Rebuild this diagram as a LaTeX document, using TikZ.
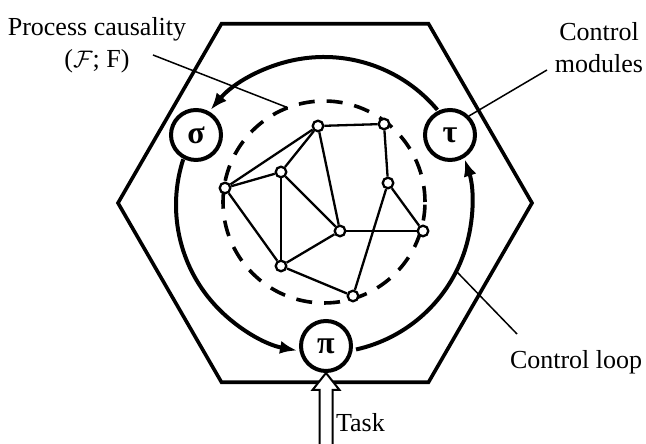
\documentclass[tikz,border=0pt]{standalone}
\usepackage{fontspec}
\setmainfont{Liberation Serif}
\usepackage{tikz}
\usetikzlibrary{arrows.meta,calc}

\begin{document}
\begin{tikzpicture}[x=0.5bp, y=0.5bp, every node/.style={font=\fontsize{13bp}{16bp}\selectfont}, >={Latex[length=8.5bp,width=6.5bp]},
	ctrl/.style={circle, draw, line width=2bp, minimum size=25bp, inner sep=0pt, fill=white, font=\fontsize{16bp}{18bp}\selectfont\bfseries},
	vtx/.style={circle, draw, fill=white, line width=1.15bp, minimum size=5.3bp, inner sep=0pt},
	lbl/.style={inner sep=0pt, outer sep=0pt},
	link/.style={line width=1.15bp},
	loopline/.style={line width=2bp, ->},
	leader/.style={line width=0.75bp}]
	\useasboundingbox (0,0) rectangle (646,444);
	\coordinate (hexc) at (325,241);
	\coordinate (loopc) at (324,239);
	\coordinate (dashc) at (324,242);
	\draw[line width=1.8bp] (hexc) +(0:207) -- +(60:207) -- +(120:207) -- +(180:207) -- +(240:207) -- +(300:207) -- cycle;
	\draw[line width=1.8bp, dash pattern=on 8bp off 6bp] (dashc) circle (101);
	\node[ctrl] (sigma) at (196,309) {σ};
	\node[ctrl] (tau) at (450,309) {τ};
	\node[ctrl] (pi) at (326,98) {π};
	\draw[loopline] ($(loopc)+(40:148)$) arc[start angle=40, end angle=140, radius=148];
	\draw[loopline] ($(loopc)+(162:148)$) arc[start angle=162, end angle=259.5, radius=148];
	\draw[loopline] ($(loopc)+(282.5:148)$) arc[start angle=282.5, end angle=378, radius=148];
	\node[vtx] (p1) at (318,318) {};
	\node[vtx] (p2) at (384,320) {};
	\node[vtx] (p3) at (281,272) {};
	\node[vtx] (p4) at (225,256) {};
	\node[vtx] (p5) at (388,261) {};
	\node[vtx] (p6) at (340,213) {};
	\node[vtx] (p7) at (423,213) {};
	\node[vtx] (p8) at (281,178) {};
	\node[vtx] (p9) at (353,148) {};
	\foreach \a/\b in {p1/p2, p1/p4, p1/p3, p1/p6, p2/p5, p4/p3, p3/p8, p3/p6, p4/p8, p6/p8, p6/p7, p5/p7, p5/p9, p8/p9}
		\draw[link] (\a) -- (\b);
	\draw[fill=white, line width=1bp] ($(pi.south)+(-6.5,-80)$) -- ++(0,63) -- ++(-7,0) -- (pi.south) -- ++(13.5,-17) -- ++(-7,0) -- ++(0,-63);
	\node[lbl, align=center] (proclbl) at (97,399) {Process causality\\($\mathcal{F}$; F)};
	\node[lbl, align=center] (modlbl) at (599,396) {Control\\modules};
	\node[lbl, anchor=base west] (looplbl) at (510,75) {Control loop};
	\node[lbl, anchor=base west] (tasklbl) at (336,12) {Task};
	\coordinate (procend) at (153,389);
	\coordinate (modend) at (547,374);
	\coordinate (loopend) at (517,110);
	\draw[leader] (procend) -- ($(dashc)+(111:101)$);
	\draw[leader] (modend) -- (tau.north east);
	\draw[leader] (loopend) -- ($(loopc)+(-26.6:148)$);
\end{tikzpicture}
\end{document}
